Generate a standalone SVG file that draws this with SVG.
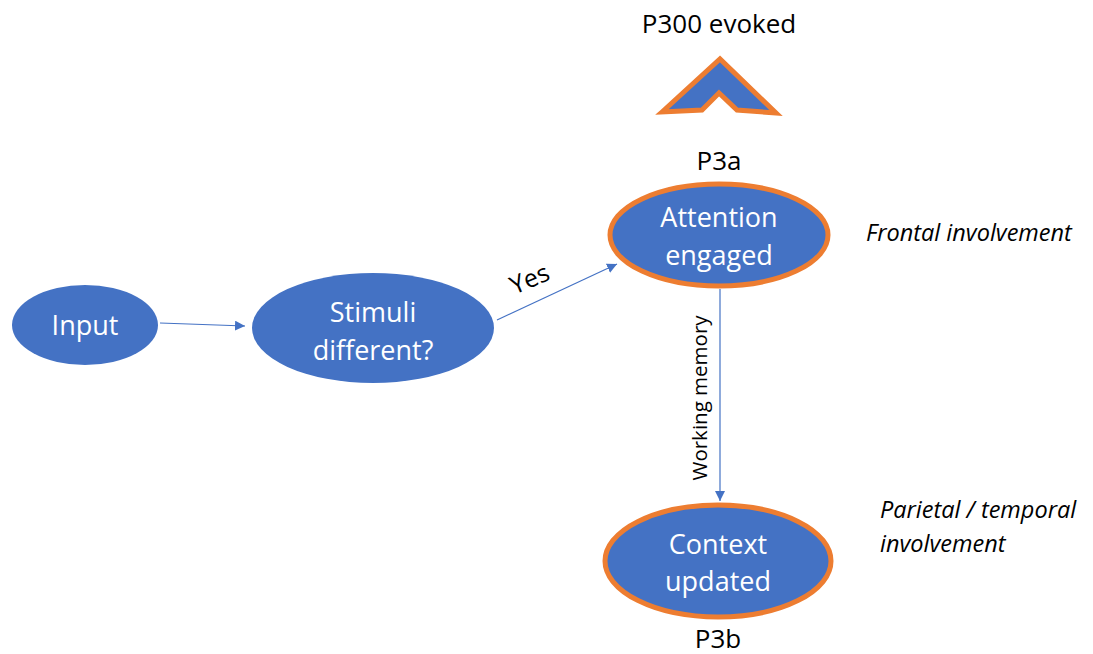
<svg xmlns="http://www.w3.org/2000/svg" width="1093" height="654" viewBox="0 0 1093 654">
  <style>
    .node { fill: #4472C4; }
    .ring { stroke: #ED7D31; stroke-width: 5; }
    .label { font-family: "Open Sans", "Liberation Sans", sans-serif; font-size: 27px; fill: #ffffff; text-anchor: middle; }
    .caption { font-family: "Open Sans", "Liberation Sans", sans-serif; font-size: 26px; fill: #000000; text-anchor: middle; }
    .note { font-family: "Open Sans", "Liberation Sans", sans-serif; font-size: 23.5px; font-style: italic; fill: #000000; }
    .edge { stroke: #4472C4; stroke-width: 1.2; fill: none; marker-end: url(#arrow); }
    .edge-label { font-family: "Open Sans", "Liberation Sans", sans-serif; fill: #000000; text-anchor: middle; }
  </style>
  <defs>
    <marker id="arrow" viewBox="0 0 10 10" refX="10" refY="5" markerWidth="10" markerHeight="10" markerUnits="userSpaceOnUse" orient="auto">
      <path d="M0,0 L10,5 L0,10 z" fill="#4472C4"/>
    </marker>
  </defs>
  <rect width="1093" height="654" fill="#ffffff"/>

  <!-- P300 indicator -->
  <g id="p300">
    <text class="caption" x="719" y="33">P300 evoked</text>
    <polygon class="node ring" points="662,112 720,59 776,113 737,110 719,93 702,110" stroke-linejoin="miter"/>
  </g>

  <g id="input">
    <ellipse class="node" cx="85" cy="325" rx="73" ry="40"/>
    <text class="label" x="85" y="335">Input</text>
  </g>

  <g id="stimuli">
    <ellipse class="node" cx="373" cy="328" rx="121" ry="55"/>
    <text class="label" x="373" y="322">Stimuli</text>
    <text class="label" x="373" y="360">different?</text>
  </g>

  <g id="attention">
    <text class="caption" x="719" y="170">P3a</text>
    <ellipse class="node ring" cx="719" cy="235" rx="109" ry="51"/>
    <text class="label" x="719" y="227">Attention</text>
    <text class="label" x="719" y="265">engaged</text>
    <text class="note" x="866" y="241">Frontal involvement</text>
  </g>

  <g id="context">
    <ellipse class="node ring" cx="718" cy="561" rx="113" ry="56"/>
    <text class="label" x="718" y="554">Context</text>
    <text class="label" x="718" y="591">updated</text>
    <text class="caption" x="718" y="648">P3b</text>
    <text class="note" x="880" y="518">Parietal / temporal</text>
    <text class="note" x="880" y="552">involvement</text>
  </g>

  <g id="connectors">
    <line class="edge" x1="160" y1="323" x2="245" y2="326"/>
    <line class="edge" x1="497" y1="320" x2="617" y2="264"/>
    <text class="edge-label" font-size="25" transform="translate(533,287) rotate(-23)">Yes</text>
    <line class="edge" x1="720" y1="289" x2="720" y2="501"/>
    <text class="edge-label" font-size="20.5" transform="translate(707,398) rotate(-90)">Working memory</text>
  </g>
</svg>
